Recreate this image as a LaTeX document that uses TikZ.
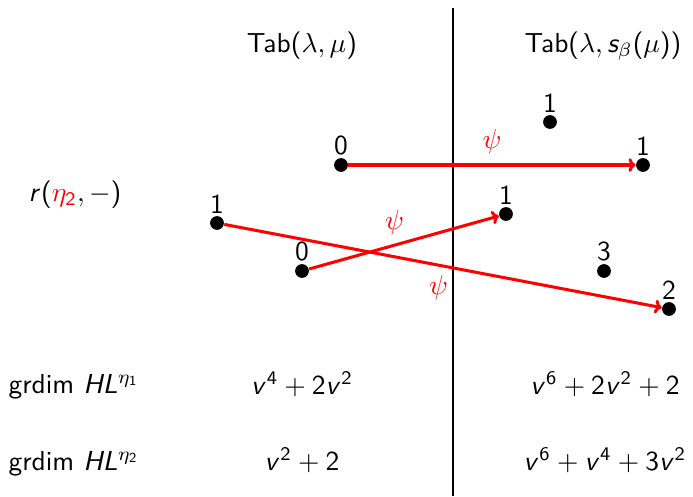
\documentclass[tikz,border=0pt]{standalone}
\usetikzlibrary{arrows.meta}
\renewcommand{\familydefault}{\sfdefault}
\DeclareSymbolFont{operators}{OT1}{cmss}{m}{n}
\DeclareSymbolFont{sfletters}{OT1}{cmss}{m}{sl}
\DeclareMathSymbol{v}{\mathalpha}{sfletters}{`v}
\DeclareMathSymbol{r}{\mathalpha}{sfletters}{`r}
\DeclareMathSymbol{s}{\mathalpha}{sfletters}{`s}
\DeclareMathSymbol{H}{\mathalpha}{sfletters}{`H}
\DeclareMathSymbol{L}{\mathalpha}{sfletters}{`L}

\begin{document}
\begin{tikzpicture}[
  x=0.364pt,y=-0.364pt,
  pt/.style={circle,fill=black,inner sep=0pt,minimum size=5pt},
  tag/.style={label={[inner sep=0.6pt]above:#1}},
  txt/.style={inner sep=0pt},
  move/.style={-{To[length=2.6pt,width=5pt]},draw=red,line width=1.1pt},
  psi/.style={text=red,font=\normalsize}
]
\useasboundingbox (0,0) rectangle (693,496);

% dividing line
\coordinate (divtop) at (453,8);
\coordinate (divbot) at (453,496);
\draw[line width=.4pt] (divtop) -- (divbot);

% column heads
\node[txt,anchor=base] (headL) at (302,52) {Tab$(\lambda,\mu)$};
\node[txt,anchor=base] (headR) at (603,52) {Tab$(\lambda,s_\beta(\mu))$};

% row heads
\node[txt] (rowr) at (75,195) {$r({\color{red}\eta_2},-)$};
\node[txt,anchor=base west] (gd1) at (8,393) {grdim $HL^{\eta_1}$};
\node[txt,anchor=base west] (gd2) at (8,470) {grdim $HL^{\eta_2}$};

% dots
\node[pt,tag=0] (a0) at (341,165) {};
\node[pt,tag=1] (b1) at (643,165) {};
\node[pt,tag=1] (c1) at (550,122) {};
\node[pt,tag=1] (d1) at (217,223) {};
\node[pt,tag=0] (e0) at (302,271) {};
\node[pt,tag=1] (f1) at (506,214) {};
\node[pt,tag=3] (g3) at (604,271) {};
\node[pt,tag=2] (h2) at (669,309) {};

\draw[move] (a0) -- node[psi,above] {$\psi$} (b1);
\draw[move] (e0) -- node[psi,pos=.45,above] {$\psi$} (f1);
\draw[move] (d1) -- node[psi,pos=.49,below] {$\psi$} (h2);

% graded dimensions
\node[txt,anchor=base] (p1L) at (302,394) {$v^4+2v^2$};
\node[txt,anchor=base] (p1R) at (605,394) {$v^6+2v^2+2$};
\node[txt,anchor=base] (p2L) at (302,470) {$v^2+2$};
\node[txt,anchor=base] (p2R) at (605,470) {$v^6+v^4+3v^2$};
\end{tikzpicture}
\end{document}
